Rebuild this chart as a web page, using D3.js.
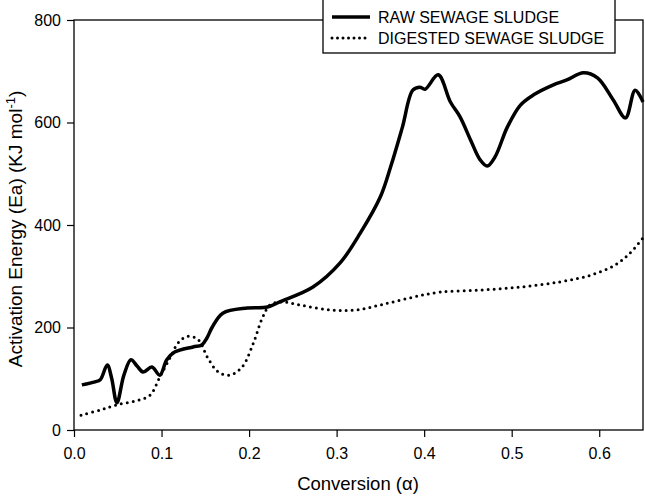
<!DOCTYPE html>
<html>
<head>
<meta charset="utf-8">
<script src="https://cdn.jsdelivr.net/npm/d3@7"></script>
<style>
  body { margin: 0; background: #fff; }
  svg text { font-family: "Liberation Sans", Arial, sans-serif; fill: #000; }
</style>
</head>
<body>
<svg id="chart" width="645" height="496"></svg>
<script>
// ----------------- DATA ----------------- //
var xTicks = [0, 0.1, 0.2, 0.3, 0.4, 0.5, 0.6];
var yTicks = [0, 200, 400, 600, 800];
var seriesNames = ['RAW SEWAGE SLUDGE', 'DIGESTED SEWAGE SLUDGE'];

var rawX = [0.009, 0.024, 0.030, 0.038, 0.043, 0.049, 0.057, 0.065, 0.072, 0.079, 0.089, 0.098, 0.106, 0.115,
    0.136, 0.146, 0.152, 0.158, 0.170, 0.198, 0.221, 0.235, 0.273, 0.304, 0.327, 0.350, 0.362, 0.375, 0.387,
    0.395, 0.401, 0.416, 0.430, 0.441, 0.453, 0.464, 0.472, 0.481, 0.495, 0.510, 0.525, 0.547, 0.563, 0.582,
    0.598, 0.616, 0.630, 0.641, 0.650];
var rawY = [88, 94, 98, 127, 101, 53, 107, 137, 125, 113, 123, 107, 137, 152,
    162, 166, 180, 201, 228, 238, 240, 250, 279, 326, 384, 455, 515, 590, 663,
    669, 665, 693, 640, 611, 566, 527, 515, 533, 591, 634, 654, 673, 683, 697,
    687, 644, 609, 663, 640];

var digX = [0.008, 0.030, 0.049, 0.075, 0.087, 0.098, 0.110, 0.119, 0.130, 0.142, 0.153, 0.165, 0.178, 0.192,
    0.205, 0.215, 0.224, 0.238, 0.258, 0.293, 0.321, 0.350, 0.384, 0.418, 0.464, 0.510, 0.555, 0.590, 0.618,
    0.635, 0.650];
var digY = [29, 39, 49, 59, 68, 103, 142, 170, 183, 176, 140, 113, 107, 123,
    170, 218, 244, 250, 244, 234, 234, 244, 258, 269, 273, 279, 289, 302, 322,
    345, 375];

// ----------------- LAYOUT ----------------- //
var svg = d3.select('#chart');
var margin = { top: 20, right: 2, bottom: 66, left: 74 };
var width = 645 - margin.left - margin.right;
var height = 496 - margin.top - margin.bottom;

var x = d3.scaleLinear().domain([0, 0.65]).range([0, width]);
var y = d3.scaleLinear().domain([0, 800]).range([height, 0]);

var g = svg.append('g').attr('transform', 'translate(' + margin.left + ',' + margin.top + ')');

// axes
var xAxis = g.append('g')
    .attr('transform', 'translate(0,' + height + ')')
    .call(d3.axisBottom(x).tickValues(xTicks).tickFormat(d3.format('.1f')).tickSize(7).tickSizeOuter(0));
var yAxis = g.append('g')
    .call(d3.axisLeft(y).tickValues(yTicks).tickFormat(d3.format('d')).tickSize(7).tickSizeOuter(0));

[xAxis, yAxis].forEach(function (a) {
    a.select('.domain').remove();
    a.selectAll('line').attr('stroke', '#000').attr('stroke-width', 1.2);
    a.selectAll('text').style('font-size', '16px');
});
xAxis.selectAll('text').attr('dy', '1.2em');
yAxis.selectAll('text').attr('x', -13);

// frame
g.append('rect')
    .attr('width', width).attr('height', height)
    .attr('fill', 'none').attr('stroke', '#000').attr('stroke-width', 1.3);

// ----------------- LINES ----------------- //
var line = d3.line()
    .x(d => x(d[0]))
    .y(d => y(d[1]))
    .curve(d3.curveCatmullRom.alpha(0.5));

var rawData = rawX.map((v, i) => [v, rawY[i]]);
var digData = digX.map((v, i) => [v, digY[i]]);

g.append('path')
    .datum(digData)
    .attr('d', line)
    .attr('fill', 'none')
    .attr('stroke', '#000')
    .attr('stroke-width', 3)
    .attr('stroke-linecap', 'round')
    .attr('stroke-dasharray', '0 6');

g.append('path')
    .datum(rawData)
    .attr('d', line)
    .attr('fill', 'none')
    .attr('stroke', '#000')
    .attr('stroke-width', 3.5)
    .attr('stroke-linejoin', 'round');

// ----------------- LABELS ----------------- //
svg.append('text')
    .attr('x', 358)
    .attr('y', 490)
    .attr('text-anchor', 'middle')
    .style('font-size', '18.5px')
    .text('Conversion (\u03B1)');

var yl = svg.append('text')
    .attr('transform', 'translate(22,229) rotate(-90)')
    .attr('text-anchor', 'middle')
    .style('font-size', '19px');
yl.append('tspan').text('Activation Energy (Ea) (KJ mol');
yl.append('tspan').attr('dy', -7).style('font-size', '13px').text('-1');
yl.append('tspan').attr('dy', 7).text(')');

// ----------------- LEGEND ----------------- //
var legend = svg.append('g');
legend.append('rect')
    .attr('x', 323).attr('y', -1).attr('width', 292).attr('height', 54)
    .attr('fill', '#fff').attr('stroke', '#000').attr('stroke-width', 1.3);

seriesNames.forEach(function (name, i) {
    var ly = 17 + i * 21;
    var sample = legend.append('line')
        .attr('x1', 332).attr('x2', 370).attr('y1', ly).attr('y2', ly)
        .attr('stroke', '#000');
    if (i === 0) {
        sample.attr('stroke-width', 3.5);
    } else {
        sample.attr('stroke-width', 3).attr('stroke-linecap', 'round').attr('stroke-dasharray', '0 5.5');
    }
    legend.append('text')
        .attr('x', 378).attr('y', ly + 6)
        .style('font-size', '16px')
        .text(name);
});
</script>
</body>
</html>
